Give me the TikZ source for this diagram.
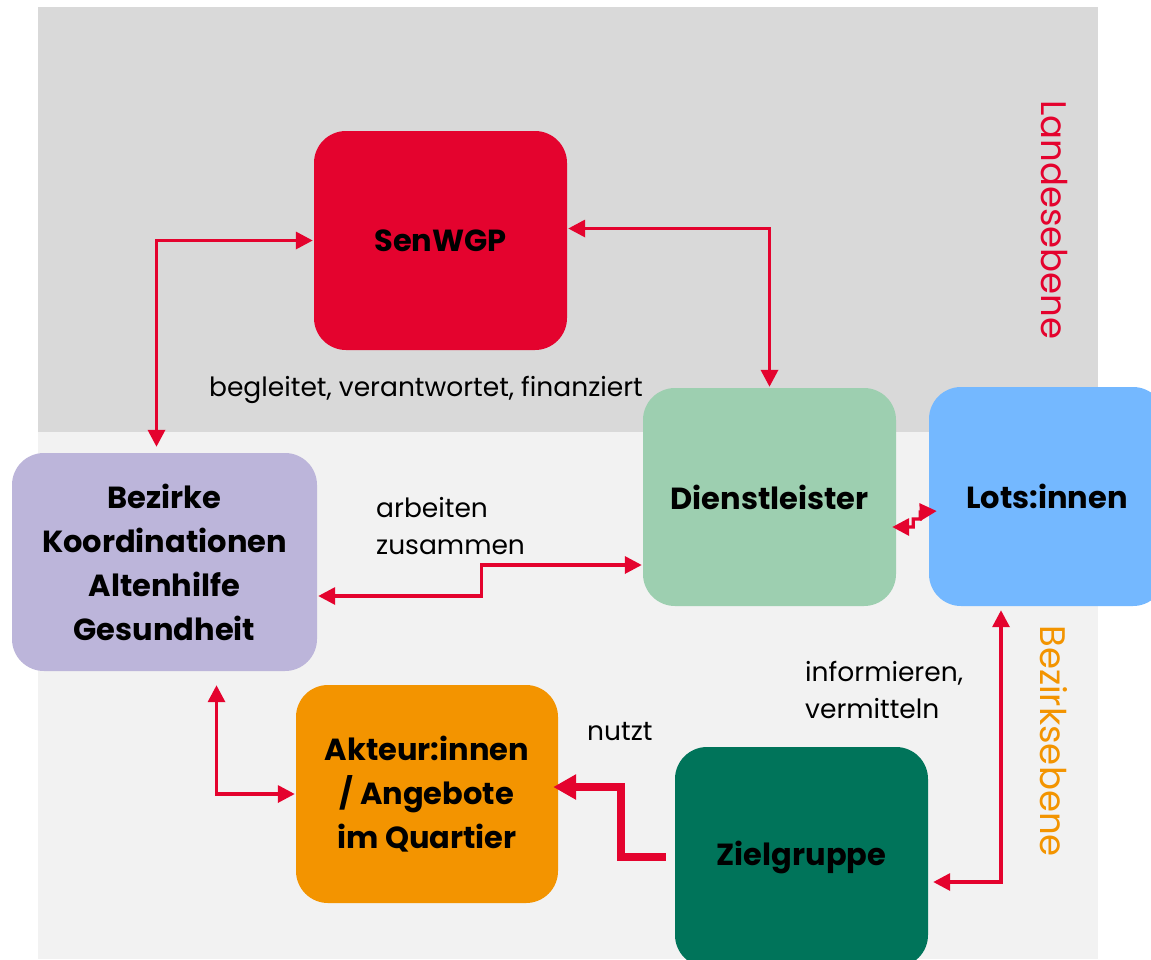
\documentclass[tikz,border=0pt]{standalone}
\usepackage{fontspec}
\setmainfont{Poppins}
\usetikzlibrary{arrows.meta}
\definecolor{cred}{HTML}{E4032E}
\definecolor{ctop}{HTML}{D9D9D9}
\definecolor{cbot}{HTML}{F2F2F2}
\definecolor{cdienst}{HTML}{9DCFB0}
\definecolor{clots}{HTML}{74B8FF}
\definecolor{cbez}{HTML}{BCB5DA}
\definecolor{cakt}{HTML}{F39400}
\definecolor{cziel}{HTML}{00745A}
\tikzset{
  boxnode/.style={rounded corners=32pt, align=center, inner sep=0pt,
    font=\bfseries\fontsize{30.5}{44}\selectfont, text=black},
  lbl/.style={font=\fontsize{26.5}{37}\selectfont, text=black, inner sep=0pt},
  lvl/.style={font=\fontsize{35.5}{40}\selectfont, rotate=-90, inner sep=0pt},
  conn/.style={draw=cred, line width=3.4pt, {Triangle[length=17pt,width=17pt]}-{Triangle[length=17pt,width=17pt]}},
  thickconn/.style={draw=cred, line width=8pt, -{Triangle[length=23pt,width=24pt]}}
}
\begin{document}
\begin{tikzpicture}[x=1pt,y=-1pt]
\useasboundingbox (0,0) rectangle (1151,959);
\fill[white] (0,0) rectangle (1151,959);
\fill[ctop] (38,7) rectangle (1098,432);
\fill[cbot] (38,432) rectangle (1098,959);

\node[boxnode, fill=cred, minimum width=253pt, minimum height=219pt] (sen) at (440.5,240.5) {SenWGP};
\node[boxnode, fill=cdienst, minimum width=253pt, minimum height=218pt] (dienst) at (769.5,497) {Dienstleister};
\node[boxnode, fill=clots, minimum width=236pt, minimum height=219pt] (lots) at (1047,496.5) {Lots:innen};
\node[boxnode, fill=cbez, minimum width=305pt, minimum height=218pt] (bez) at (164.5,562) {Bezirke\\Koordinationen\\Altenhilfe\\Gesundheit};
\node[boxnode, fill=cakt, minimum width=262pt, minimum height=218pt] (akt) at (427,794) {Akteur:innen\\/ Angebote\\im Quartier};
\node[boxnode, fill=cziel, minimum width=253pt, minimum height=220pt] (ziel) at (801.5,857) {Zielgruppe};

\node[lbl, anchor=base] (l1) at (426,396) {begleitet, verantwortet, finanziert};
\node[lbl, align=left, anchor=base west] (l2) at (376,554) {arbeiten\\zusammen};
\node[lbl, align=left, anchor=base west] (l3) at (805,718) {informieren,\\vermitteln};
\node[lbl, anchor=base west] (l4) at (587,740) {nutzt};
\node[lvl, text=cred] (land) at (1054,220) {Landesebene};
\node[lvl, text=cakt] (bzk) at (1054,741) {Bezirksebene};

\draw[conn, shorten <=1pt, shorten >=6pt] (sen.west) -| ([xshift=-8pt]bez.north);
\draw[conn, shorten <=1pt, shorten >=1pt] ([yshift=12pt]sen.east) -| (dienst.north);
\draw[conn, shorten <=1pt, shorten >=1pt] ([yshift=-34pt]bez.east) -- ++(164,0) |- ([yshift=-68pt]dienst.west);
\draw[conn, shorten <=-4pt, shorten >=-8pt] ([yshift=-30pt]dienst.east) -- ++(17,0) -- ++(0,-8) -- ++(7,0) -- ++(0,-7) -- ([yshift=-15pt]lots.west);
\draw[conn, shorten <=14pt, shorten >=1pt] ([xshift=52pt]bez.south) |- (akt.west);
\draw[thickconn, shorten <=9pt, shorten >=-5pt] (ziel.west) -- ++(-54,0) |- ([yshift=7pt]akt.east);
\draw[conn, shorten <=4pt, shorten >=5pt] ([xshift=-46pt]lots.south) |- ([yshift=-25pt]ziel.east);
\end{tikzpicture}
\end{document}
